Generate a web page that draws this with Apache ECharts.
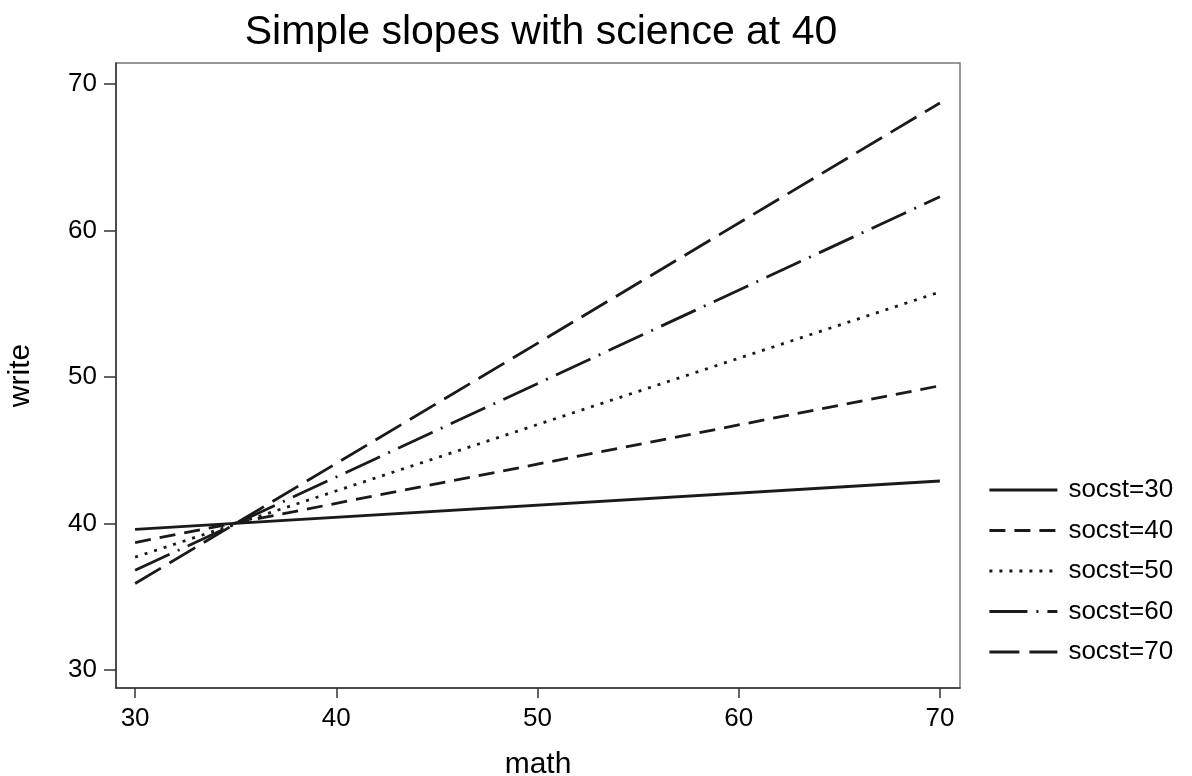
<!DOCTYPE html>
<html>
<head>
<meta charset="utf-8">
<script src="https://cdn.jsdelivr.net/npm/echarts@6/dist/echarts.min.js"></script>
<style>html,body{margin:0;padding:0;background:#fff}#c{width:1192px;height:776px}</style>
</head>
<body>
<div id="c"></div>
<script>
const mathX = [30, 70];
const seriesNames = ['socst=30', 'socst=40', 'socst=50', 'socst=60', 'socst=70'];
const socst30 = [39.6, 42.9];
const socst40 = [38.7, 49.4];
const socst50 = [37.7, 55.8];
const socst60 = [36.8, 62.3];
const socst70 = [35.9, 68.7];
const xTicks = [30, 40, 50, 60, 70];
const yTicks = [30, 40, 50, 60, 70];

const values = [socst30, socst40, socst50, socst60, socst70];
const dashes = ['solid', [16, 9], [3, 7], [38, 9, 2, 9], [30, 10]];

const chart = echarts.init(document.getElementById('c'), null, {renderer: 'canvas'});
const font = 'Liberation Sans, Arial, Helvetica, sans-serif';
chart.setOption({
  animation: false,
  backgroundColor: '#fff',
  title: {
    text: 'Simple slopes with science at 40',
    left: 536, top: 7, textAlign: 'center',
    textStyle: {fontFamily: font, fontSize: 41, fontWeight: 'normal', color: '#000'}
  },
  grid: {left: 116, right: 232, top: 63, bottom: 88, containLabel: false, outerBoundsMode: 'none',
    show: true, borderColor: '#777', borderWidth: 1.5, backgroundColor: '#fff'},
  legend: {
    orient: 'vertical', left: 983, top: 472,
    itemWidth: 68, itemHeight: 16, itemGap: 14.5,
    itemStyle: {opacity: 0},
    lineStyle: {width: 2.8},
    textStyle: {fontFamily: font, fontSize: 26, lineHeight: 26, color: '#000', padding: [0, 0, 0, 6]},
    data: seriesNames
  },
  xAxis: {
    type: 'value', min: 29.05, max: 71,
    name: 'math', nameLocation: 'middle', nameGap: 62,
    nameTextStyle: {fontFamily: font, fontSize: 30, color: '#000'},
    axisLine: {show: true, onZero: false, lineStyle: {color: '#333', width: 1.5}},
    axisTick: {show: true, length: 10, customValues: xTicks, lineStyle: {color: '#333', width: 1.5}},
    axisLabel: {customValues: xTicks, margin: 18, fontFamily: font, fontSize: 26, color: '#000'},
    splitLine: {show: false}
  },
  yAxis: {
    type: 'value', min: 28.77, max: 71.43,
    name: 'write', nameLocation: 'middle', nameGap: 80, nameRotate: 90,
    nameTextStyle: {fontFamily: font, fontSize: 30, color: '#000'},
    axisLine: {show: true, onZero: false, lineStyle: {color: '#333', width: 1.5}},
    axisTick: {show: true, length: 12, customValues: yTicks, lineStyle: {color: '#333', width: 1.5}},
    axisLabel: {customValues: yTicks, margin: 19, fontFamily: font, fontSize: 26, color: '#000'},
    splitLine: {show: false}
  },
  series: seriesNames.map((n, i) => ({
    name: n, type: 'line', symbol: 'none',
    data: mathX.map((x, j) => [x, values[i][j]]),
    lineStyle: {color: '#1a1a1a', width: 2.8, type: dashes[i]},
    itemStyle: {color: '#1a1a1a'}
  }))
});
</script>
</body>
</html>
